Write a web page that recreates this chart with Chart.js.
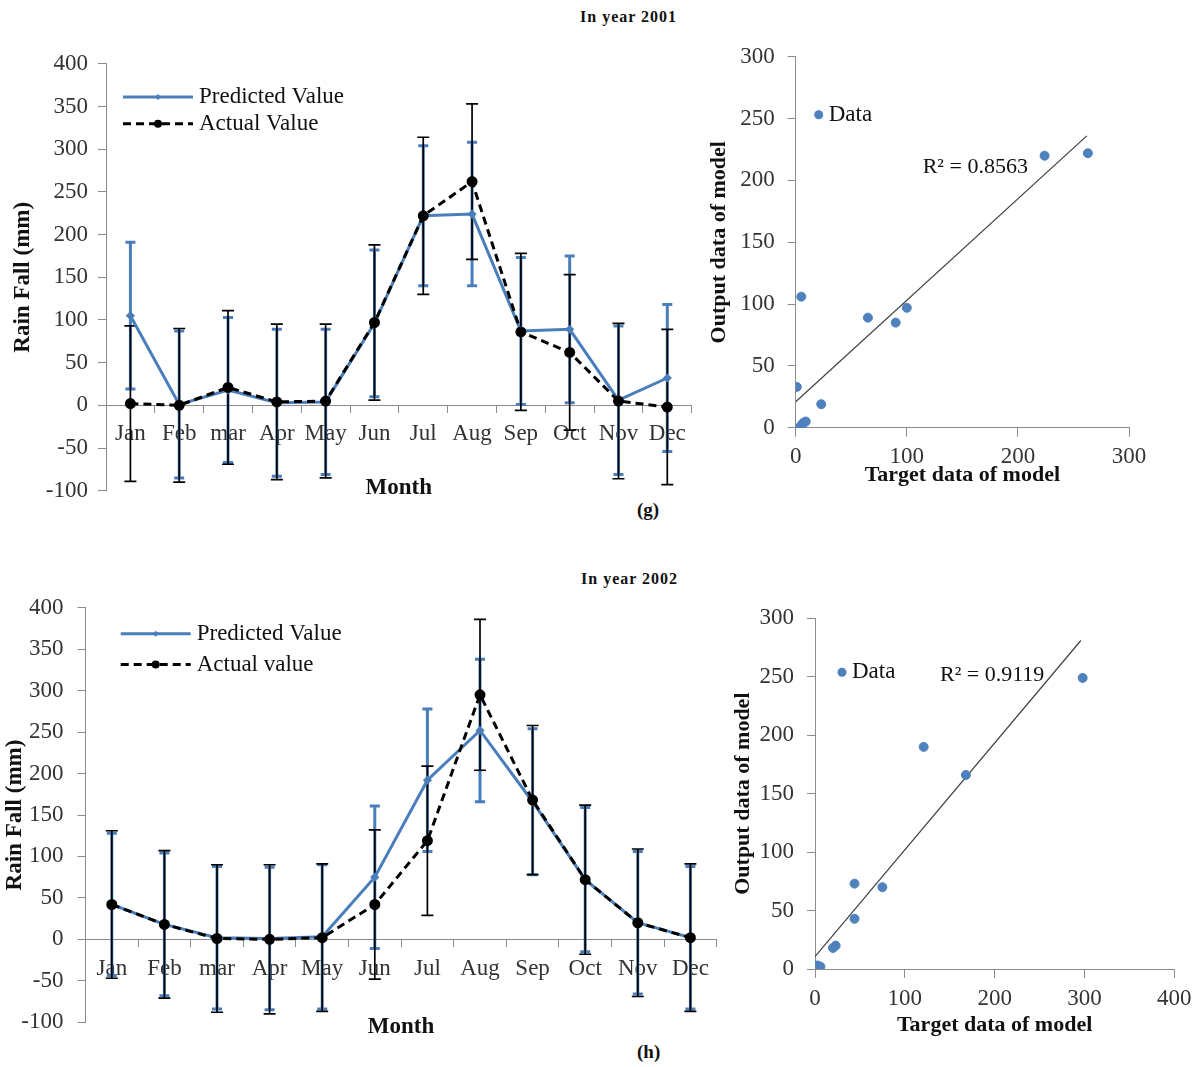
<!DOCTYPE html>
<html>
<head>
<meta charset="utf-8">
<script src="https://cdn.jsdelivr.net/npm/chart.js@4.4.0/dist/chart.umd.min.js"></script>
<style>
body { margin: 0; background: #fff; width: 1199px; height: 1067px; position: relative; overflow: hidden; font-family: "Liberation Serif", "Times New Roman", serif; }
canvas { position: absolute; }
.lbl { position: absolute; font-weight: bold; color: #111; white-space: nowrap; }
</style>
</head>
<body>
<div class="lbl" style="left:580px;top:8px;font-size:16px;letter-spacing:1px">In year 2001</div>
<div class="lbl" style="left:637px;top:499px;font-size:19px">(g)</div>
<div class="lbl" style="left:581px;top:570px;font-size:16px;letter-spacing:1px">In year 2002</div>
<div class="lbl" style="left:637px;top:1041px;font-size:19px">(h)</div>

<canvas id="lineG" width="700" height="480" style="left:0;top:40px"></canvas>
<canvas id="scatG" width="500" height="480" style="left:690px;top:30px"></canvas>
<canvas id="lineH" width="730" height="470" style="left:0;top:580px"></canvas>
<canvas id="scatH" width="499" height="470" style="left:700px;top:590px"></canvas>

<script>
var months = ['Jan', 'Feb', 'mar', 'Apr', 'May', 'Jun', 'Jul', 'Aug', 'Sep', 'Oct', 'Nov', 'Dec'];

// 2001 (g)
var pred2001 = [105, 1, 18, 3, 4, 96, 222, 224, 87, 89, 6, 32];
var act2001 = [2, 0, 21, 4, 5, 97, 222, 262, 86, 62, 5, -2];
var predErr2001 = [86, 86, 85, 86, 85, 86, 82, 84, 86, 86, 87, 86];
var actErr2001 = [91, 90, 90, 91, 90, 91, 92, 91, 92, 91, 91, 91];

// 2002 (h)
var pred2002 = [42, 18, 2, 1, 3, 75, 192, 252, 166, 72, 20, 2];
var act2002 = [42, 18, 1, 0, 2, 42, 119, 295, 168, 72, 20, 2];
var predErr2002 = [86, 86, 86, 86, 87, 86, 86, 86, 88, 87, 86, 86];
var actErr2002 = [89, 89, 89, 90, 89, 90, 90, 91, 90, 90, 89, 89];

// scatter: target (actual) vs output (predicted)
var target2001 = [5, 3, 23, 6, 7, 100, 224, 263, 90, 65, 9, 1];
var output2001 = [106, 0, 19, 3, 4, 97, 220, 222, 85, 89, 5, 33];
var trendX2001 = [0, 262];
var trendY2001 = [21, 236];

var target2002 = [44, 20, 2, 4, 3, 44, 121, 298, 168, 75, 23, 6];
var output2002 = [43, 18, 2, 1, 3, 73, 190, 249, 166, 70, 20, 2];
var trendX2002 = [0, 296];
var trendY2002 = [10.5, 281];

var SERIF = '"Liberation Serif", "Times New Roman", serif';
var BLUE = '#4a7ebb';
var DOT = '#4f81bd';
var AXIS = '#8c8c8c';
var TICK = '#333';

/* error bars drawn from each dataset's errors array */
var errorBars = {
	id: 'errorBars',
	beforeDatasetsDraw: function (chart) {
		var ctx = chart.ctx;
		var y = chart.scales.y;
		chart.data.datasets.forEach(function (ds, i) {
			if (!ds.errors) return;
			var meta = chart.getDatasetMeta(i);
			ctx.save();
			ctx.strokeStyle = ds.errorColor;
			ctx.lineWidth = ds.errorWidth;
			meta.data.forEach(function (pt, j) {
				var top = y.getPixelForValue(ds.data[j] + ds.errors[j]);
				var bot = y.getPixelForValue(ds.data[j] - ds.errors[j]);
				var c = ds.errorCap;
				ctx.beginPath();
				ctx.moveTo(pt.x, top); ctx.lineTo(pt.x, bot);
				ctx.moveTo(pt.x - c, top); ctx.lineTo(pt.x + c, top);
				ctx.moveTo(pt.x - c, bot); ctx.lineTo(pt.x + c, bot);
				ctx.stroke();
			});
			ctx.restore();
		});
	}
};

/* legend inside plot area for the line charts */
function lineLegend(dx, dy1, dy2, names) {
	return {
		id: 'lineLegend',
		afterDraw: function (chart) {
			var ctx = chart.ctx;
			var x0 = chart.chartArea.left + dx;
			var ya = chart.chartArea.top + dy1;
			var yb = chart.chartArea.top + dy2;
			ctx.save();
			// predicted
			ctx.strokeStyle = BLUE;
			ctx.lineWidth = 3;
			ctx.beginPath(); ctx.moveTo(x0, ya); ctx.lineTo(x0 + 70, ya); ctx.stroke();
			ctx.fillStyle = BLUE;
			ctx.beginPath();
			ctx.moveTo(x0 + 35, ya - 3); ctx.lineTo(x0 + 38, ya); ctx.lineTo(x0 + 35, ya + 3); ctx.lineTo(x0 + 32, ya);
			ctx.fill();
			// actual
			ctx.strokeStyle = '#000';
			ctx.lineWidth = 3;
			ctx.setLineDash([8, 5]);
			ctx.beginPath(); ctx.moveTo(x0, yb); ctx.lineTo(x0 + 70, yb); ctx.stroke();
			ctx.setLineDash([]);
			ctx.fillStyle = '#000';
			ctx.beginPath(); ctx.arc(x0 + 35, yb, 4, 0, Math.PI * 2); ctx.fill();
			ctx.font = '23px ' + SERIF;
			ctx.fillStyle = '#111';
			ctx.textBaseline = 'middle';
			ctx.fillText(names[0], x0 + 76, ya);
			ctx.fillText(names[1], x0 + 76, yb);
			ctx.restore();
		}
	};
}

/* legend + R² note for the scatter charts */
function scatterNotes(lx, ly, rx, ry, r2) {
	return {
		id: 'scatterNotes',
		afterDraw: function (chart) {
			var ctx = chart.ctx;
			var a = chart.chartArea;
			ctx.save();
			ctx.fillStyle = DOT;
			ctx.beginPath(); ctx.arc(a.left + lx, a.top + ly, 4.5, 0, Math.PI * 2); ctx.fill();
			ctx.font = '23px ' + SERIF;
			ctx.fillStyle = '#111';
			ctx.textBaseline = 'middle';
			ctx.fillText('Data', a.left + lx + 10, a.top + ly);
			ctx.font = '22px ' + SERIF;
			ctx.fillText(r2, a.left + rx, a.top + ry);
			ctx.restore();
		}
	};
}

function lineChart(id, pred, act, predErr, actErr, actName, geo) {
	return new Chart(document.getElementById(id), {
		type: 'line',
		data: {
			labels: months,
			datasets: [{
				label: 'Predicted Value',
				data: pred,
				errors: predErr,
				errorColor: BLUE,
				errorWidth: 3,
				errorCap: 5,
				borderColor: BLUE,
				backgroundColor: BLUE,
				borderWidth: 3,
				pointStyle: 'rectRot',
				pointRadius: 2.5,
				tension: 0,
				order: 1
			}, {
				label: actName,
				data: act,
				errors: actErr,
				errorColor: '#000',
				errorWidth: 1.7,
				errorCap: 6,
				borderColor: '#000',
				backgroundColor: '#000',
				borderWidth: 3,
				borderDash: [8, 5],
				pointRadius: 4,
				tension: 0,
				order: 0
			}]
		},
		options: {
			responsive: false,
			animation: false,
			layout: { padding: geo.pad, autoPadding: false },
			plugins: { legend: { display: false }, tooltip: { enabled: false } },
			scales: {
				x: {
					type: 'category',
					offset: true,
					position: { y: 0 },
					grid: { drawOnChartArea: false, offset: true, tickLength: 7, color: AXIS },
					border: { color: AXIS },
					ticks: { font: { family: SERIF, size: 23 }, color: TICK, padding: geo.xPad, maxRotation: 0, autoSkip: false },
					title: { display: true, text: 'Month', color: '#111', font: { family: SERIF, size: 23, weight: 'bold' }, padding: { top: geo.monthPad, bottom: 0 } }
				},
				y: {
					min: -100,
					max: 400,
					grid: { drawOnChartArea: false, tickLength: 8, color: AXIS },
					border: { color: AXIS },
					ticks: { stepSize: 50, font: { family: SERIF, size: 23 }, color: TICK, padding: geo.yPad },
					title: { display: true, text: 'Rain Fall (mm)', color: '#111', font: { family: SERIF, size: 23, weight: 'bold' }, padding: { top: geo.yTitlePad, bottom: 0 } },
					afterFit: function (s) { s.width = geo.yWidth; }
				}
			}
		},
		plugins: [errorBars, lineLegend(geo.lx, geo.ly1, geo.ly2, ['Predicted Value', actName])]
	});
}

function scatterChart(id, xs, ys, tx, ty, xMax, r2, geo) {
	var pts = xs.map(function (x, i) { return { x: x, y: ys[i] }; });
	var trend = tx.map(function (x, i) { return { x: x, y: ty[i] }; });
	return new Chart(document.getElementById(id), {
		type: 'scatter',
		data: {
			datasets: [{
				label: 'Data',
				data: pts,
				backgroundColor: DOT,
				borderColor: DOT,
				pointRadius: 4.5
			}, {
				type: 'line',
				label: 'Linear',
				data: trend,
				borderColor: '#404040',
				borderWidth: 1.2,
				pointRadius: 0,
				fill: false
			}]
		},
		options: {
			responsive: false,
			animation: false,
			layout: { padding: geo.pad, autoPadding: false },
			plugins: { legend: { display: false }, tooltip: { enabled: false } },
			scales: {
				x: {
					type: 'linear',
					min: 0,
					max: xMax,
					grid: { drawOnChartArea: false, tickLength: 9, color: AXIS },
					border: { color: AXIS },
					ticks: { stepSize: 100, font: { family: SERIF, size: 23 }, color: TICK, padding: geo.xPad },
					title: { display: true, text: 'Target data of model', color: '#111', font: { family: SERIF, size: 22, weight: 'bold' }, padding: { top: 0, bottom: geo.xTitlePad } },
					afterFit: function (s) { s.height = geo.xHeight; }
				},
				y: {
					min: 0,
					max: 300,
					grid: { drawOnChartArea: false, tickLength: 8, color: AXIS },
					border: { color: AXIS },
					ticks: { stepSize: 50, font: { family: SERIF, size: 23 }, color: TICK, padding: geo.yPad },
					title: { display: true, text: 'Output data of model', color: '#111', font: { family: SERIF, size: 22, weight: 'bold' }, padding: { top: geo.yTitlePad, bottom: 0 } },
					afterFit: function (s) { s.width = geo.yWidth; }
				}
			}
		},
		plugins: [scatterNotes(geo.lx, geo.ly, geo.rx, geo.ry, r2)]
	});
}

lineChart('lineG', pred2001, act2001, predErr2001, actErr2001, 'Actual Value', {
	pad: { top: 22.7, bottom: 29.3, right: 8.3, left: 0 },
	yWidth: 106, xPad: 8, yPad: 10, monthPad: 18.6, yTitlePad: 9.2,
	lx: 17, ly1: 33.3, ly2: 60
});

lineChart('lineH', pred2002, act2002, predErr2002, actErr2002, 'Actual value', {
	pad: { top: 23.3, bottom: 22.7, right: 13.3, left: 0 },
	yWidth: 85.5, xPad: 9, yPad: 14, monthPad: 21.3, yTitlePad: 1.2,
	lx: 35.2, ly1: 26, ly2: 56.7
});

scatterChart('scatG', target2001, output2001, trendX2001, trendY2001, 300, 'R\u00b2 = 0.8563', {
	pad: { top: 25, bottom: 0, right: 61, left: 0 },
	yWidth: 105.7, xHeight: 82.3, xPad: 6, yPad: 13, xTitlePad: 21.8, yTitlePad: 15.8,
	lx: 23, ly: 58, rx: 127, ry: 110
});

scatterChart('scatH', target2002, output2002, trendX2002, trendY2002, 400, 'R\u00b2 = 0.9119', {
	pad: { top: 28.3, bottom: 0, right: 24, left: 0 },
	yWidth: 115, xHeight: 91, xPad: 7.5, yPad: 13, xTitlePad: 21.8, yTitlePad: 29.8,
	lx: 27, ly: 54, rx: 125, ry: 57
});
</script>
</body>
</html>
